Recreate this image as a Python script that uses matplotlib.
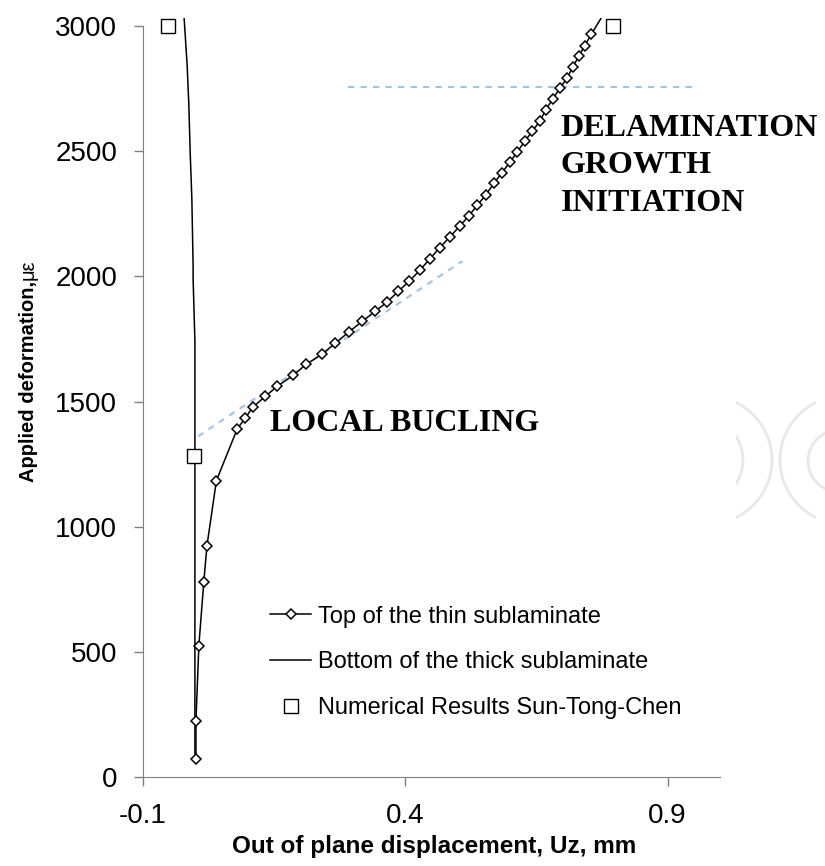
import matplotlib
matplotlib.use("Agg")
import matplotlib.pyplot as plt
from matplotlib.patches import Arc, Rectangle
from matplotlib.transforms import IdentityTransform

plt.rcParams['font.family'] = ['Liberation Sans', 'DejaVu Sans']

# top of the thin sublaminate (last point has no marker, line runs off the top)
thin_x = [0.001, 0.001, 0.0065, 0.016, 0.022, 0.040, 0.080, 0.095, 0.109, 0.133,
          0.156, 0.186, 0.211, 0.241, 0.267, 0.292, 0.318, 0.343, 0.366, 0.387,
          0.408, 0.428, 0.4475, 0.466, 0.4856, 0.504, 0.5217, 0.5375, 0.5534, 0.569,
          0.584, 0.600, 0.6135, 0.6276, 0.642, 0.657, 0.6675, 0.681, 0.6947, 0.7086,
          0.719, 0.7308, 0.742, 0.755, 0.773]
thin_y = [72, 225, 524, 780, 924, 1184, 1392, 1433, 1477, 1520,
          1561, 1604, 1648, 1689, 1733, 1777, 1820, 1861, 1898, 1941,
          1981, 2025, 2071, 2115, 2159, 2201, 2243, 2284, 2325, 2371,
          2413, 2457, 2497, 2539, 2579, 2621, 2664, 2708, 2751, 2792,
          2835, 2879, 2921, 2968, 3030]

# bottom of the thick sublaminate
thick_x = [-0.001, -0.001, -0.0044, -0.0044, -0.0068, -0.010, -0.0125, -0.0157, -0.0215]
thick_y = [72, 1741, 1988, 2041, 2308, 2496, 2681, 2841, 3030]

# Sun-Tong-Chen numerical results
num_x = [-0.053, -0.0025, 0.796]
num_y = [3000, 1284, 3000]

# guide lines
slope_x = [0.005, 0.509]
slope_y = [1361, 2061]
level_x = [0.29, 0.946]
level_y = [2755, 2755]

x_ticks = [-0.1, 0.4, 0.9]
x_labels = ['-0.1', '0.4', '0.9']
y_ticks = [0, 500, 1000, 1500, 2000, 2500, 3000]

fig = plt.figure(figsize=(8.25, 8.66), dpi=100)
ax = fig.add_axes([0.1733, 0.10277, 0.6994, 0.87587])

blue = '#9dc3e6'
ax.plot(slope_x, slope_y, color=blue, lw=1.5, dashes=(3, 3))
ax.plot(level_x, level_y, color=blue, lw=1.5, dashes=(3, 3))

h_thick, = ax.plot(thick_x, thick_y, color='black', lw=1.1,
                   label='Bottom of the thick sublaminate')
h_thin, = ax.plot(thin_x, thin_y, color='black', lw=1.1, marker='D', ms=5.3,
                  mfc='white', mec='black', mew=1.1,
                  markevery=list(range(len(thin_x) - 1)),
                  label='Top of the thin sublaminate')
h_num, = ax.plot(num_x, num_y, ls='none', marker='s', ms=10.5, mfc='white',
                 mec='black', mew=1.0, clip_on=False,
                 label='Numerical Results Sun-Tong-Chen')

ax.set_xlim(-0.1, 1.0)
ax.set_ylim(0, 3030)
ax.set_xticks(x_ticks)
ax.set_xticklabels(x_labels)
ax.set_yticks(y_ticks)
ax.tick_params(direction='out', length=6.5, width=1, color='#808080',
               labelsize=20, pad=12)
for s in ['top', 'right']:
    ax.spines[s].set_visible(False)
for s in ['left', 'bottom']:
    ax.spines[s].set_color('#808080')
ax.spines['left'].set_bounds(0, 3000)

ax.legend(handles=[h_thin, h_thick, h_num], loc='upper left',
          bbox_to_anchor=(0.22, 0.226), frameon=False, fontsize=17,
          handlelength=1.75, handletextpad=0.3, labelspacing=1.0,
          borderpad=0, borderaxespad=0)

serif = dict(fontfamily='Liberation Serif', fontweight='bold', fontsize=23,
             va='baseline', ha='left')
ax.text(0.1414, 1381, 'LOCAL BUCLING', **serif)
ax.text(0.696, 2561, 'DELAMINATION', **serif)
ax.text(0.696, 2414, 'GROWTH', **serif)
ax.text(0.696, 2261, 'INITIATION', **serif)

fig.text(434 / 825, 1 - 853 / 866, 'Out of plane displacement, Uz, mm',
         ha='center', va='baseline', fontsize=17.5, fontweight='bold')

yl = fig.text(34 / 825, 1 - 482 / 866, 'Applied deformation,', rotation=90,
              rotation_mode='anchor', ha='left', va='baseline',
              fontsize=14.5, fontweight='bold')
fig.canvas.draw()
bb = yl.get_window_extent()
fig.text(34 / 825, (bb.y1 + 1) / 866, 'με', rotation=90, rotation_mode='anchor',
         ha='left', va='baseline', fontsize=14.5)

# faint watermark at the right edge
clip = Rectangle((736, 0), 100, 866, transform=IdentityTransform(),
                 facecolor='none', edgecolor='none')
fig.add_artist(clip)
wm = dict(transform=IdentityTransform(), color='#e8e8e8', lw=2)
for arc in [Arc((708, 866 - 460), 128, 128, theta1=-64, theta2=64, **wm),
            Arc((700, 866 - 460), 86, 86, theta1=-50, theta2=50, **wm),
            Arc((844, 866 - 460), 128, 128, theta1=116, theta2=244, **wm),
            Arc((839, 866 - 461), 62, 62, theta1=90, theta2=270, **wm)]:
    fig.add_artist(arc)
    arc.set_clip_path(clip)

fig.savefig('out.png', dpi=100, facecolor='white')
